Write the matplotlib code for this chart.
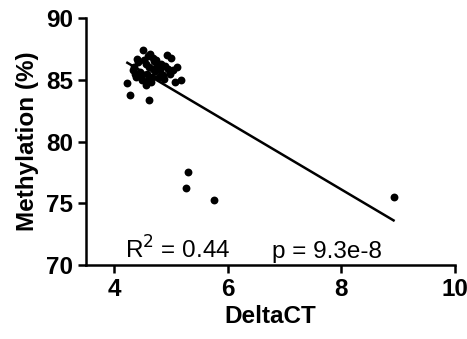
import matplotlib
matplotlib.use("Agg")
import matplotlib.pyplot as plt
import numpy as np

plt.rcParams['font.family'] = ['Liberation Sans', 'DejaVu Sans']

delta_ct = [4.50, 4.63, 4.92, 5.00, 4.40, 5.10, 4.23, 4.27, 4.61, 5.07, 5.18, 4.98,
            4.35, 4.45, 4.55, 4.60, 4.70, 4.75, 4.80, 4.85, 4.38, 4.48, 4.58, 4.68,
            4.78, 4.88, 4.42, 4.52, 4.62, 4.72, 4.82, 4.95, 4.33, 4.47, 4.57, 4.66,
            4.74, 4.90, 5.03, 4.55, 4.65, 4.36, 4.69,
            5.30, 5.26, 5.75, 8.92]
methylation = [87.4, 87.1, 87.0, 86.8, 86.7, 86.0, 84.7, 83.8, 83.4, 84.8, 85.0, 85.5,
               86.0, 85.6, 86.3, 86.9, 86.5, 86.2, 85.8, 85.4, 85.2, 85.0, 85.5, 85.9,
               85.2, 85.1, 86.4, 86.6, 86.0, 85.7, 86.3, 85.9, 85.8, 85.3, 84.9, 85.2,
               86.6, 86.1, 85.8, 84.6, 84.8, 85.5, 86.8,
               77.5, 76.2, 75.3, 75.5]
fit_slope = -2.72
fit_intercept = 97.88
x_ticks = [4, 6, 8, 10]
y_ticks = [70, 75, 80, 85, 90]
r2_label = "R$^2$ = 0.44"
p_label = "p = 9.3e-8"

fig = plt.figure(figsize=(4.67, 3.39), dpi=100)
ax = fig.add_axes([0.184, 0.218, 0.790, 0.729])

ax.scatter(delta_ct, methylation, s=32, color='black', zorder=3, linewidths=0)
xs = np.array([min(delta_ct), max(delta_ct)])
ax.plot(xs, fit_slope * xs + fit_intercept, color='black', lw=1.8, zorder=2)

ax.set_xlim(3.5, 10)
ax.set_ylim(70, 90)
ax.set_xticks(x_ticks)
ax.set_yticks(y_ticks)
for s in ['top', 'right']:
    ax.spines[s].set_visible(False)
for s in ['left', 'bottom']:
    ax.spines[s].set_linewidth(1.8)
ax.tick_params(width=1.8, length=6, labelsize=17.5, pad=3)
for lab in ax.get_xticklabels() + ax.get_yticklabels():
    lab.set_fontweight('bold')
ax.set_xlabel('DeltaCT', fontsize=17.5, fontweight='bold', labelpad=3)
ax.set_ylabel('Methylation (%)', fontsize=17.5, fontweight='bold', labelpad=5)

ax.text(4.19, 70.55, r2_label, fontsize=17.5, ha='left', va='baseline')
ax.text(6.77, 70.55, p_label, fontsize=17.5, ha='left', va='baseline')

fig.savefig('out.png', dpi=100)
